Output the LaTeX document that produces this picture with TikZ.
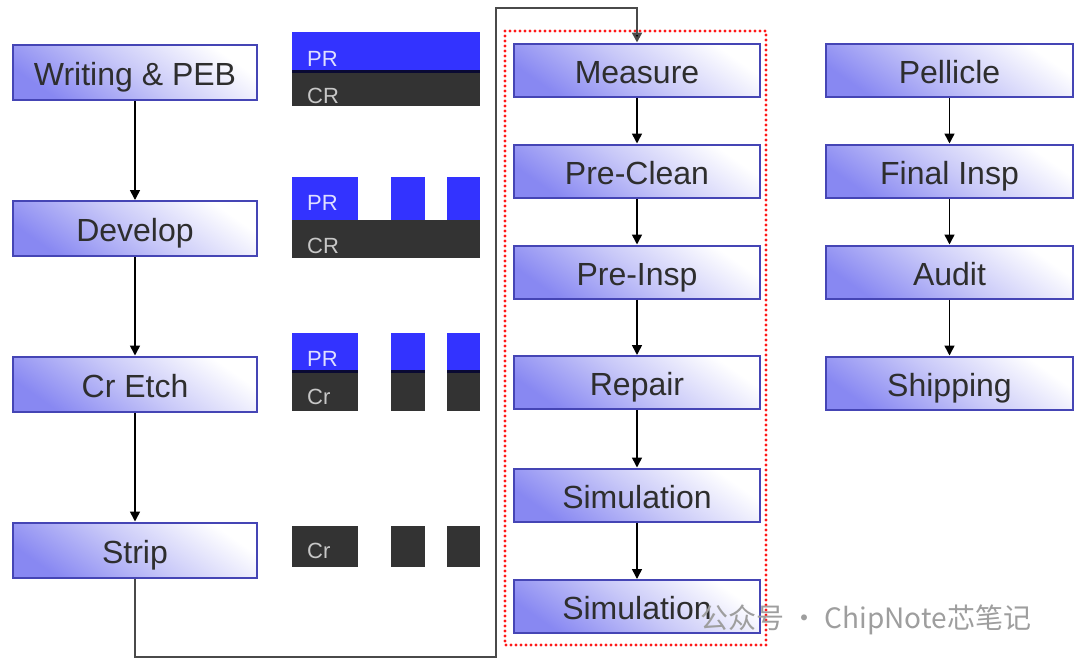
\documentclass[tikz,border=0pt]{standalone}
\usepackage{fontspec}
\setmainfont{Liberation Sans}
\newfontfamily\cjkfont{Noto Sans CJK SC}
\usetikzlibrary{arrows.meta,shadings}
\definecolor{boxborder}{HTML}{4545B5}
\definecolor{boxblue}{HTML}{8888F2}
\definecolor{boxmid}{HTML}{C8C8F8}
\definecolor{prblue}{HTML}{3333FF}
\definecolor{crdark}{HTML}{333333}
\definecolor{navyline}{HTML}{0A0A33}
\definecolor{connline}{HTML}{4A4A4A}
\tikzset{
  proc/.style={draw=boxborder, line width=2pt, top color=white, bottom color=boxblue, middle color=boxmid, shading angle=-35,
    minimum height=53pt, inner sep=0pt, text height=26pt, text depth=0pt,
    font=\fontsize{32}{36}\selectfont, text=black!82},
  leftbox/.style={proc, minimum width=244pt, minimum height=55pt},
  midbox/.style={proc, minimum width=246pt},
  rightbox/.style={proc, minimum width=247pt},
  flow/.style={draw=black, line width=1.6pt, -{Triangle[length=10pt,width=10pt]}},
  mainconn/.style={draw=connline, line width=2.4pt, -{Triangle[length=10pt,width=10pt,fill=black]}},
  lbl/.style={anchor=base west, inner sep=0pt, font=\fontsize{22}{24}\selectfont},
}
\begin{document}
\begin{tikzpicture}[x=1pt,y=-1pt]
\useasboundingbox (0,0) rectangle (1080,662);
\fill[white] (0,0) rectangle (1080,662);

% left column
\node[leftbox] (wr) at (135,72.5) {Writing \& PEB};
\node[leftbox] (dev) at (135,228.5) {Develop};
\node[leftbox] (etch) at (135,384) {Cr Etch};
\node[leftbox] (strip) at (135,550) {Strip};

% middle column
\node[midbox] (meas) at (637,70) {Measure};
\node[midbox] (pclean) at (637,171) {Pre-Clean};
\node[midbox] (pinsp) at (637,272) {Pre-Insp};
\node[midbox] (rep) at (637,382.5) {Repair};
\node[midbox] (sim1) at (637,495) {Simulation};
\node[midbox] (sim2) at (637,606.5) {Simulation};

% right column
\node[rightbox] (pel) at (949.5,70.5) {Pellicle};
\node[rightbox] (fin) at (949.5,171) {Final Insp};
\node[rightbox] (aud) at (949.5,272) {Audit};
\node[rightbox] (ship) at (949.5,383) {Shipping};

% red dotted frame
\draw[red!90!white, line width=3.2pt, line cap=round, dash pattern=on 0pt off 5pt] (505,31) rectangle (766,645);

% arrows
\draw[flow] (wr) -- (dev);
\draw[flow] (dev) -- (etch);
\draw[flow] (etch) -- (strip);
\draw[flow] (meas) -- (pclean);
\draw[flow] (pclean) -- (pinsp);
\draw[flow] (pinsp) -- (rep);
\draw[flow] (rep) -- (sim1);
\draw[flow] (sim1) -- (sim2);
\draw[flow] (pel) -- (fin);
\draw[flow] (fin) -- (aud);
\draw[flow] (aud) -- (ship);

\coordinate (cb) at (496,657);
\coordinate (ct) at (496,8);
\draw[mainconn] (strip.south) |- (cb) -- (ct) -| (meas.north);

% cross sections
% row 1
\fill[prblue] (292,32) rectangle (480,70);
\fill[navyline] (292,70) rectangle (480,73);
\fill[crdark] (292,73) rectangle (480,106);
\node[lbl, text=white!85!prblue] (pr1) at (307,66) {PR};
\node[lbl, text=white!78!black] (cr1) at (307,103) {CR};
% row 2
\fill[prblue] (292,177) rectangle (358,220);
\fill[prblue] (391,177) rectangle (425,220);
\fill[prblue] (447,177) rectangle (480,220);
\fill[crdark] (292,220) rectangle (480,258);
\node[lbl, text=white!85!prblue] (pr2) at (307,210) {PR};
\node[lbl, text=white!78!black] (cr2) at (307,253) {CR};
% row 3
\foreach \a/\b in {292/358, 391/425, 447/480}{
  \fill[prblue] (\a,333) rectangle (\b,370);
  \fill[navyline] (\a,370) rectangle (\b,373);
  \fill[crdark] (\a,373) rectangle (\b,411);
}
\node[lbl, text=white!85!prblue] (pr3) at (307,366) {PR};
\node[lbl, text=white!78!black] (cr3) at (307,404) {Cr};
% row 4
\foreach \a/\b in {292/358, 391/425, 447/480}{
  \fill[crdark] (\a,526) rectangle (\b,567);
}
\node[lbl, text=white!78!black] (cr4) at (307,558) {Cr};

% watermark
\node[anchor=west, inner sep=0pt, text=black!38, font=\cjkfont\fontsize{28}{30}\selectfont] (wm) at (700,620) {公众号 · ChipNote芯笔记};
\end{tikzpicture}
\end{document}
